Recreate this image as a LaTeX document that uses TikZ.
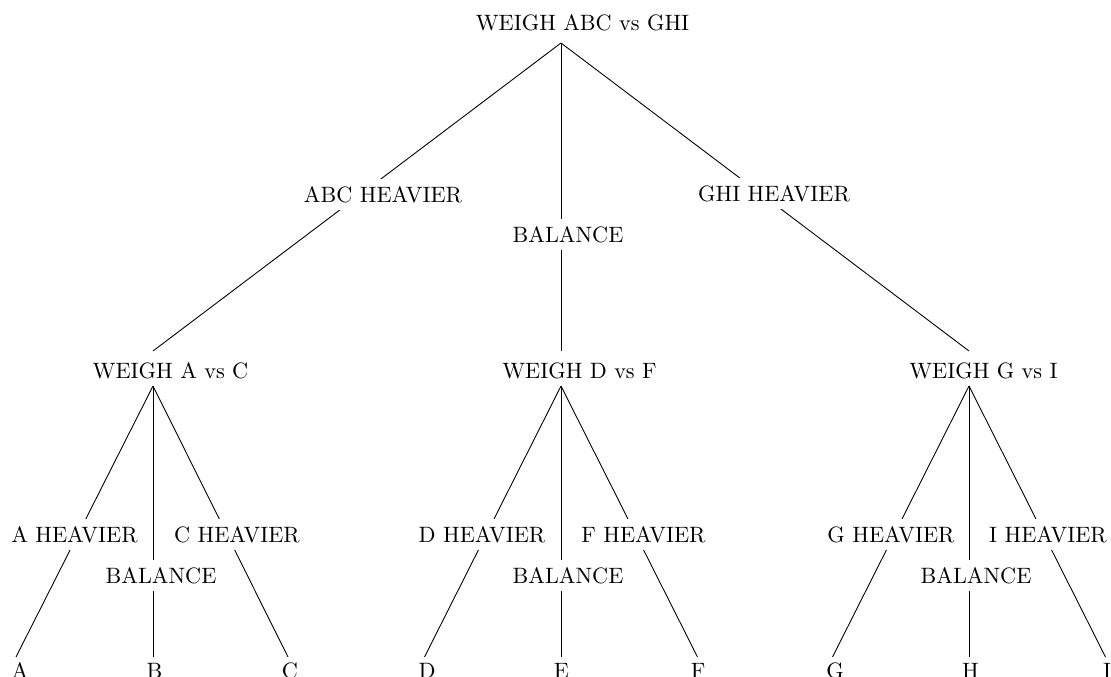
\documentclass[tikz,border=0pt]{standalone}
\begin{document}
\begin{tikzpicture}[x=0.45pt,y=-0.45pt,
  treenode/.style={anchor=base,inner sep=0pt},
  edgelabel/.style={anchor=base,fill=white,inner sep=3.3pt},
  branch/.style={line width=0.4pt}]
\useasboundingbox (0,0) rectangle (1111,677);
% tree nodes
\node[treenode] (root) at (582.5,30) {WEIGH ABC vs GHI};
\node[treenode] (ac) at (170.5,378) {WEIGH A vs C};
\node[treenode] (df) at (579.5,378) {WEIGH D vs F};
\node[treenode] (gi) at (983.5,378) {WEIGH G vs I};
\node[treenode] (la) at (20,678) {A};
\node[treenode] (lb) at (154.5,678) {B};
\node[treenode] (lc) at (290,678) {C};
\node[treenode] (ld) at (427,678) {D};
\node[treenode] (le) at (561.5,678) {E};
\node[treenode] (lf) at (698,678) {F};
\node[treenode] (lg) at (835,678) {G};
\node[treenode] (lh) at (970.5,678) {H};
\node[treenode] (li) at (1107,678) {I};
% connection points
\coordinate (root-s) at (561,43);
\coordinate (ac-n) at (153,351);
\coordinate (df-n) at (561,351);
\coordinate (gi-n) at (969,351);
\coordinate (ac-s) at (153,386);
\coordinate (df-s) at (561,386);
\coordinate (gi-s) at (969,386);
\coordinate (la-n) at (16,657);
\coordinate (lb-n) at (153,657);
\coordinate (lc-n) at (288,657);
\coordinate (ld-n) at (424.5,657);
\coordinate (le-n) at (561,657);
\coordinate (lf-n) at (697.5,657);
\coordinate (lg-n) at (832.5,657);
\coordinate (lh-n) at (969,657);
\coordinate (li-n) at (1105.5,657);
% branches
\draw[branch] (root-s) -- (ac-n);
\draw[branch] (root-s) -- (df-n);
\draw[branch] (root-s) -- (gi-n);
\draw[branch] (ac-s) -- (la-n);
\draw[branch] (ac-s) -- (lb-n);
\draw[branch] (ac-s) -- (lc-n);
\draw[branch] (df-s) -- (ld-n);
\draw[branch] (df-s) -- (le-n);
\draw[branch] (df-s) -- (lf-n);
\draw[branch] (gi-s) -- (lg-n);
\draw[branch] (gi-s) -- (lh-n);
\draw[branch] (gi-s) -- (li-n);
% edge labels
\node[edgelabel] (e1) at (383,202) {ABC HEAVIER};
\node[edgelabel] (e2) at (568,242) {BALANCE};
\node[edgelabel] (e3) at (774,201) {GHI HEAVIER};
\node[edgelabel] (e4) at (74.5,542) {A HEAVIER};
\node[edgelabel] (e5) at (161,583) {BALANCE};
\node[edgelabel] (e6) at (237,542) {C HEAVIER};
\node[edgelabel] (e7) at (482,542) {D HEAVIER};
\node[edgelabel] (e8) at (568,583) {BALANCE};
\node[edgelabel] (e9) at (643.5,542) {F HEAVIER};
\node[edgelabel] (e10) at (891,542) {G HEAVIER};
\node[edgelabel] (e11) at (976,583) {BALANCE};
\node[edgelabel] (e12) at (1048,542) {I HEAVIER};
\end{tikzpicture}
\end{document}
